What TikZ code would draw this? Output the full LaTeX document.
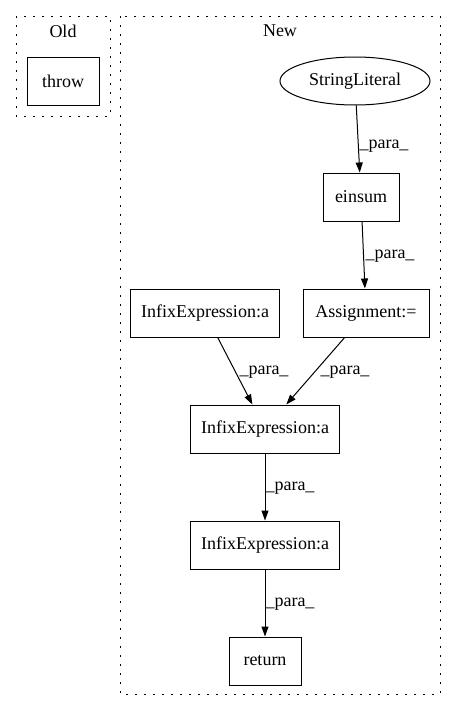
\documentclass[tikz,border=0pt]{standalone}
\usepackage{fontspec}
\setmainfont{Liberation Serif}
\usetikzlibrary{arrows.meta,shapes.geometric}
\begin{document}
\begin{tikzpicture}[x=1pt,y=-1pt,
  box/.style={draw,line width=1pt,minimum height=48pt,inner sep=0pt,font=\fontsize{18}{20}\selectfont},
  oval/.style={draw,ellipse,line width=1pt,minimum width=150pt,minimum height=48pt,inner sep=0pt,font=\fontsize{18}{20}\selectfont},
  cluster/.style={draw,line width=1pt,dash pattern=on 1.6pt off 7.4pt},
  edge/.style={line width=1pt,-{Triangle[length=10pt,width=7pt]}},
  elabel/.style={font=\fontsize{18}{20}\selectfont,inner sep=0pt},
  ctitle/.style={font=\fontsize{18}{20}\selectfont,inner sep=0pt}]
\useasboundingbox (0,0) rectangle (456,712);
\draw[cluster] (16,16) rectangle (110,116);
\draw[cluster] (120,16) rectangle (440,694);
\node[ctitle] (oldt) at (63,31) {Old};
\node[ctitle] (newt) at (280,31) {New};
\node[box,minimum width=72pt] (throw) at (63,81) {throw};
\node[oval] (lit) at (355,81) {StringLiteral};
\node[box,minimum width=76pt] (einsum) at (361,197) {einsum};
\node[box,minimum width=126pt] (assign) at (366,313) {Assignment:=};
\node[box,minimum width=149pt] (infl) at (205,313) {InfixExpression:a};
\node[box,minimum width=149pt] (infm) at (265,429) {InfixExpression:a};
\node[box,minimum width=149pt] (infb) at (265,545) {InfixExpression:a};
\node[box,minimum width=72pt] (ret) at (265,661) {return};
\draw[edge] (lit) -- (einsum);
\draw[edge] (einsum) -- (assign);
\draw[edge] (infl) -- (infm);
\draw[edge] (assign) -- (infm);
\draw[edge] (infm) -- (infb);
\draw[edge] (infb) -- (ret);
\node[elabel] (l1) at (384,146) {\_para\_};
\node[elabel] (l2) at (390,256) {\_para\_};
\node[elabel] (l3) at (264,372) {\_para\_};
\node[elabel] (l4) at (345,372) {\_para\_};
\node[elabel] (l5) at (290,488) {\_para\_};
\node[elabel] (l6) at (290,604) {\_para\_};
\end{tikzpicture}
\end{document}
